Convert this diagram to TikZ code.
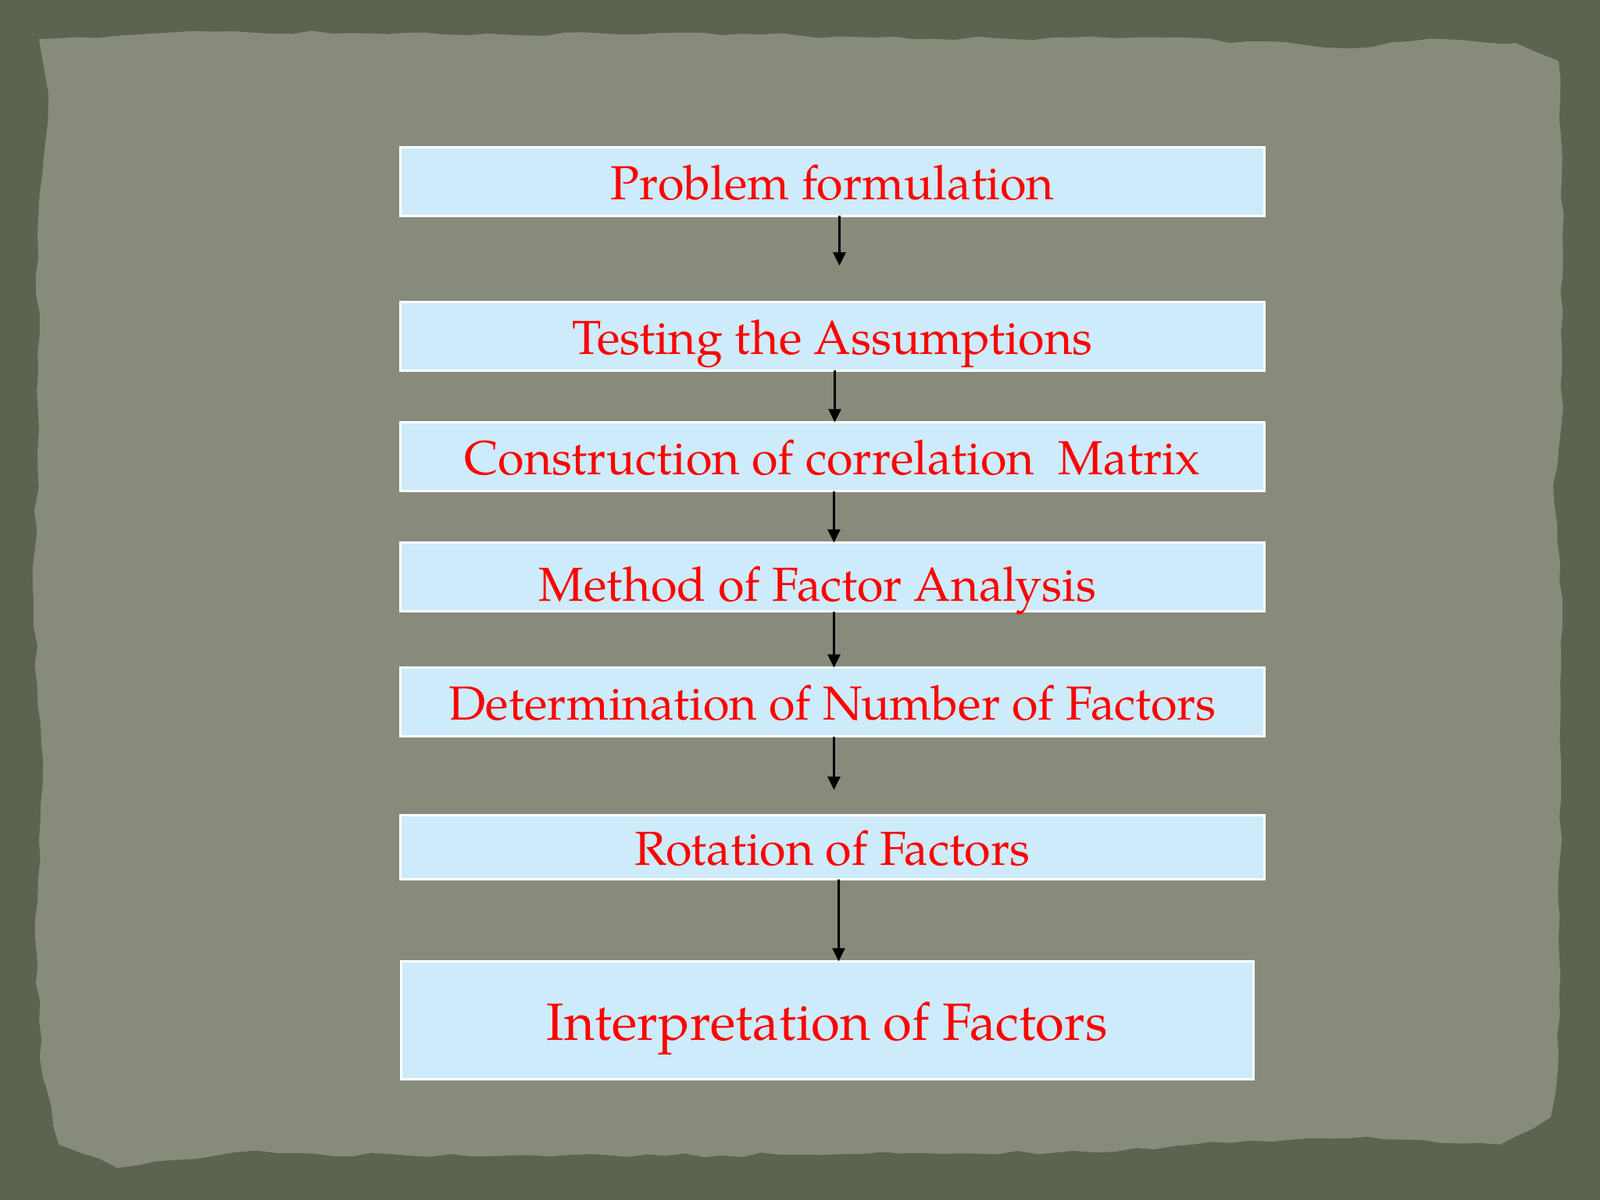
\documentclass[tikz,border=0pt]{standalone}
\usepackage{fontspec}
\setmainfont{TeX Gyre Pagella}
\usetikzlibrary{positioning}
\usetikzlibrary{arrows.meta}
\usetikzlibrary{decorations.pathmorphing}
\definecolor{boxblue}{RGB}{205,235,250}
\definecolor{stepred}{RGB}{255,0,0}
\definecolor{rimgreen}{RGB}{92,100,80}
\definecolor{papergray}{RGB}{134,139,124}

\begin{document}
\begin{tikzpicture}[->,>={Triangle[length=0.17cm,width=0.16cm]},line width=0.03cm,y=-1cm]
\tikzstyle{stage}=[rectangle,
  draw=white,fill=boxblue,text=stepred,
  line width=0.03cm,inner sep=0pt,outer sep=0pt,
  minimum width=11.06cm,
  minimum height=0.88cm,
  text height=0.46cm,text depth=0pt,
  font=\fontsize{17.4}{20}\selectfont
]

\tikzstyle{laststage}=[stage,
  minimum width=10.91cm,
  minimum height=1.51cm,
  text height=0.50cm,
  font=\fontsize{19.1}{22}\selectfont
]

% torn paper on the dark rim
\fill[-,rimgreen] (0,0) rectangle (20.48,15.36);
\fill[-,papergray,decorate,decoration={random steps,segment length=7pt,amplitude=0.8pt}]
  (0.50,0.50) -- (3.0,0.40) -- (6.0,0.45) -- (9.0,0.42) -- (12.0,0.50)
  -- (15.0,0.48) -- (17.3,0.62) -- (18.5,0.50) -- (19.4,0.55) -- (19.95,0.78)
  -- (20.0,3.0) -- (19.98,5.5) -- (19.88,6.2) -- (20.0,8.0) -- (19.98,10.0)
  -- (19.95,12.0) -- (19.95,13.5) -- (19.85,14.3) -- (19.2,14.65) -- (17.5,14.55)
  -- (16.0,14.6) -- (14.0,14.75) -- (10.0,14.78) -- (6.0,14.8) -- (3.0,14.75)
  -- (1.5,14.95) -- (0.75,14.65) -- (0.55,13.8) -- (0.45,12.0) -- (0.55,10.0)
  -- (0.42,7.5) -- (0.50,5.5) -- (0.48,3.0) -- (0.62,1.2) -- cycle;

\node[stage]          (problem)   at (10.655,2.325) {Problem formulation};
\node[stage, below=1.10cm of problem]    (testing)  {Testing the Assumptions};
\node[stage, below=0.66cm of testing]    (matrix)   {Construction of correlation\ \ Matrix};
\node[stage, below=0.66cm of matrix, text height=0.61cm] (method) {Method of Factor Analysis\hspace*{0.38cm}};
\node[stage, below=0.72cm of method]     (number)   {Determination of Number of Factors};
\node[stage, below=1.01cm of number, minimum height=0.82cm] (rotation) {Rotation of Factors};
\node[laststage, below=1.05cm of rotation, xshift=-0.07cm] (meaning) {Interpretation of Factors};

\draw[shorten >=0.465cm] ([xshift=0.09cm]problem.south) -- ([xshift=0.09cm]testing.north);
\draw ([xshift=0.03cm]testing.south) -- ([xshift=0.03cm]matrix.north);
\draw ([xshift=0.02cm]matrix.south) -- ([xshift=0.02cm]method.north);
\draw ([xshift=0.02cm]method.south) -- ([xshift=0.02cm]number.north);
\draw[shorten >=0.325cm] ([xshift=0.02cm]number.south) -- ([xshift=0.02cm]rotation.north);
\draw ([xshift=0.08cm]rotation.south) -- ([xshift=0.15cm]meaning.north);
\end{tikzpicture}
\end{document}
